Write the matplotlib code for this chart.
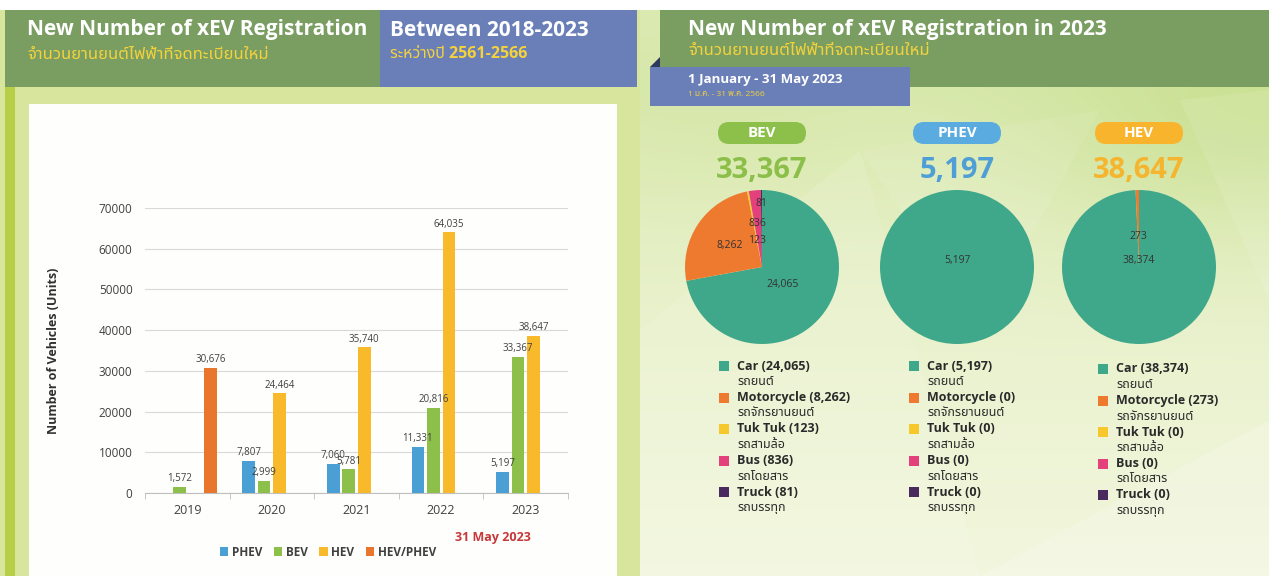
import numpy as np
import matplotlib
matplotlib.use("Agg")
import matplotlib.pyplot as plt
from matplotlib import font_manager
from matplotlib.ft2font import FT2Font
from matplotlib.patches import Rectangle, FancyBboxPatch, Polygon

# ── Data ──────────────────────────────────────────────────────────────────────
YEARS    = ["2019", "2020", "2021", "2022", "2023"]
PHEV     = [np.nan, 7807, 7060, 11331, 5197]
BEV      = [1572, 2999, 5781, 20816, 33367]
HEV      = [np.nan, 24464, 35740, 64035, 38647]
HEV_PHEV = [30676, np.nan, np.nan, np.nan, np.nan]
SERIES_NAMES = ["PHEV", "BEV", "HEV", "HEV/PHEV"]
Y_TICKS  = [0, 10000, 20000, 30000, 40000, 50000, 60000, 70000]

VEHICLE_EN = ["Car", "Motorcycle", "Tuk Tuk", "Bus", "Truck"]
VEHICLE_TH = ["รถยนต์", "รถจักรยานยนต์", "รถสามล้อ", "รถโดยสาร", "รถบรรทุก"]
BEV_2023   = [24065, 8262, 123, 836, 81]
PHEV_2023  = [5197, 0, 0, 0, 0]
HEV_2023   = [38374, 273, 0, 0, 0]
PIE_NAMES  = ["BEV", "PHEV", "HEV"]
PIE_TOTALS = [33367, 5197, 38647]

# ── Style ─────────────────────────────────────────────────────────────────────
W, H = 1269, 576
GREEN_HDR = "#7a9e62"
BLUE_HDR  = "#6a7fb8"
GOLD      = "#f4d23c"
BAR_COLORS = ["#4a9fd5", "#8cc04a", "#f8b92a", "#e8762d"]
VEH_COLORS = ["#40a88a", "#ee7a30", "#f6c82c", "#e4407c", "#4a2a5e"]
PILL_COLORS = ["#8dc04a", "#5aabdf", "#f9b42d"]
NUM_COLORS  = ["#8cbf4a", "#4f9fd6", "#f5b52e"]
PIE_CX = [762, 957, 1139]
PIE_CY = 267
PIE_R  = 77
LABEL_FRAC = [[0.35, 0.5, 0.35, 0.57, 0.83], [-0.08], [-0.08, 0.4]]
LEG_MX = [724, 914, 1103]
LEG_DY = [0, 0, 3]


def find_thai_family():
    names = [f.name for f in font_manager.fontManager.ttflist]
    for pref in ["Noto Sans Thai", "Noto Sans Thai UI", "Noto Looped Thai"]:
        if pref in names:
            return pref
    for f in font_manager.fontManager.ttflist:
        try:
            if 0x0E01 in FT2Font(f.fname).get_charmap():
                return f.name
        except Exception:
            pass
    return None


thai = find_thai_family()
families = ["Open Sans"] + ([thai] if thai else []) + ["DejaVu Sans"]
plt.rcParams["font.family"] = families

fig = plt.figure(figsize=(W / 100, H / 100), dpi=100, facecolor="white")

# ── Background (pixel coordinates) ────────────────────────────────────────────
bg = fig.add_axes([0, 0, 1, 1])
bg.set_xlim(0, W)
bg.set_ylim(H, 0)
bg.axis("off")

# right side soft gradient
ny, nx = 120, 160
yy, xx = np.mgrid[0:ny, 0:nx]
py = 10 + yy / (ny - 1) * (H - 10)
px = 630 + xx / (nx - 1) * (W - 630)
t = np.clip((py - 90) / (H - 90), 0, 1) ** 0.7
top = np.array([0.86, 0.92, 0.70])
bot = np.array([0.95, 0.965, 0.87])
img = top[None, None, :] * (1 - t[..., None]) + bot[None, None, :] * t[..., None]
g = np.exp(-(((px - 1269) / 260) ** 2 + ((py - 110) / 120) ** 2))
img = img * (1 - 0.55 * g[..., None]) + np.array([0.74, 0.85, 0.48]) * 0.55 * g[..., None]
g2 = np.exp(-(((px - 700) / 200) ** 2 + ((py - 120) / 90) ** 2))
img = img * (1 - 0.3 * g2[..., None]) + np.array([0.80, 0.88, 0.58]) * 0.3 * g2[..., None]
bg.imshow(img, extent=[630, W, H, 10], aspect="auto", interpolation="bilinear", zorder=0)

# faint facets
for pts, a in [([(640, 330), (860, 150), (980, 576), (640, 576)], 0.10),
               ([(980, 576), (1269, 420), (1269, 576)], 0.18),
               ([(860, 150), (1100, 110), (980, 330)], 0.08),
               ([(1180, 100), (1269, 90), (1269, 300)], 0.10)]:
    bg.add_patch(Polygon(pts, closed=True, facecolor="white", alpha=a, lw=0, zorder=0.5))

# left side
bg.add_patch(Rectangle((0, 10), 640, H - 10, facecolor="#d8e59c", lw=0, zorder=1))
bg.add_patch(Rectangle((5, 87), 10, H - 87, facecolor="#b5cf48", lw=0, zorder=1.1))
bg.add_patch(Rectangle((29, 104), 617 - 29, H - 104, facecolor="#fefefc", lw=0, zorder=1.2))

# headers
bg.add_patch(Rectangle((5, 10), 375, 77, facecolor=GREEN_HDR, lw=0, zorder=2))
bg.add_patch(Rectangle((380, 10), 257, 77, facecolor=BLUE_HDR, lw=0, zorder=2))
bg.add_patch(Rectangle((660, 10), W - 660, 77, facecolor=GREEN_HDR, lw=0, zorder=2))
bg.add_patch(Polygon([(650, 67), (660, 57), (660, 67)], closed=True,
                     facecolor="#2e3a5c", lw=0, zorder=2))
bg.add_patch(Rectangle((650, 67), 260, 39, facecolor=BLUE_HDR, lw=0, zorder=3))

bg.text(27, 30, "New Number of xEV Registration", color="white", fontsize=15,
        fontweight="bold", va="center", ha="left", zorder=4)
bg.text(27, 54, "จำนวนยานยนต์ไฟฟ้าที่จดทะเบียนใหม่", color=GOLD, fontsize=12,
        fontweight="bold", va="center", ha="left", zorder=4)
bg.text(390, 30, "Between 2018-2023", color="white", fontsize=15,
        fontweight="bold", va="center", ha="left", zorder=4)
bg.text(390, 54, "ระหว่างปี 2561-2566", color=GOLD, fontsize=11.5,
        fontweight="bold", va="center", ha="left", zorder=4)
bg.text(688, 30, "New Number of xEV Registration in 2023", color="white", fontsize=15,
        fontweight="bold", va="center", ha="left", zorder=4)
bg.text(688, 50, "จำนวนยานยนต์ไฟฟ้าที่จดทะเบียนใหม่", color=GOLD, fontsize=12,
        fontweight="bold", va="center", ha="left", zorder=4)
bg.text(688, 79, "1 January - 31 May 2023", color="white", fontsize=9.5,
        fontweight="bold", va="center", ha="left", zorder=4)
bg.text(688, 95, "1 ม.ค. - 31 พ.ค. 2566", color=GOLD, fontsize=6,
        va="center", ha="left", zorder=4)

# ── Bar chart ─────────────────────────────────────────────────────────────────
ax = fig.add_axes([145 / W, (H - 493) / H, (568 - 145) / W, (493 - 208) / H])
ax.patch.set_alpha(0)
x = np.arange(len(YEARS))
step, width = 0.183, 0.148
for i, (vals, name) in enumerate(zip([PHEV, BEV, HEV, HEV_PHEV], SERIES_NAMES)):
    pos = x + (i - 1.5) * step
    ax.bar(pos, vals, width=width, color=BAR_COLORS[i], label=name, zorder=3)
    for xp, v in zip(pos, vals):
        if not np.isnan(v):
            ax.annotate(f"{int(v):,}", (xp, v), xytext=(0, 2), textcoords="offset points",
                        ha="center", va="bottom", fontsize=7, color="#404040", zorder=4)

ax.set_xlim(-0.5, len(YEARS) - 0.5)
ax.set_ylim(0, 70000)
ax.set_yticks(Y_TICKS)
ax.set_yticklabels([str(v) for v in Y_TICKS])
ax.set_xticks(x)
ax.set_xticklabels(YEARS)
ax.set_xticks(np.arange(-0.5, len(YEARS)), minor=True)
ax.yaxis.grid(True, color="#d9d9d9", lw=0.8)
ax.set_axisbelow(True)
for s in ["left", "right", "top"]:
    ax.spines[s].set_visible(False)
ax.spines["bottom"].set_color("#bfbfbf")
ax.tick_params(axis="y", length=0, pad=9, labelsize=8.5, labelcolor="#404040")
ax.tick_params(axis="x", which="major", length=0, pad=8, labelsize=9, labelcolor="#404040")
ax.tick_params(axis="x", which="minor", length=4, color="#bfbfbf")
ax.set_ylabel("Number of Vehicles (Units)", fontsize=9, fontweight="bold", color="#303030")
ax.yaxis.set_label_coords((60 - 145) / (568 - 145), 0.5)

ax.legend(loc="center", bbox_to_anchor=(328 / W, 1 - 552 / H), bbox_transform=fig.transFigure,
          ncol=4, frameon=False, prop=dict(size=8.5, weight="bold"), handlelength=0.7,
          handleheight=0.7, handletextpad=0.3, columnspacing=1.0, labelcolor="#404040")
bg.text(493, 538, "31 May 2023", color="#c8383a", fontsize=9, fontweight="bold",
        ha="center", va="center", zorder=4)

# ── Pies ──────────────────────────────────────────────────────────────────────
pie_data = [BEV_2023, PHEV_2023, HEV_2023]
for k, (vals, name, total) in enumerate(zip(pie_data, PIE_NAMES, PIE_TOTALS)):
    cx = PIE_CX[k]
    pax = fig.add_axes([(cx - PIE_R) / W, 1 - (PIE_CY + PIE_R) / H, 2 * PIE_R / W, 2 * PIE_R / H])
    pax.pie(vals, colors=VEH_COLORS, startangle=90, counterclock=False, radius=1,
            wedgeprops=dict(linewidth=0))
    pax.set_xlim(-1, 1)
    pax.set_ylim(-1, 1)
    pax.set_aspect("equal")
    pax.axis("off")
    cum = np.cumsum(vals)
    tot = float(sum(vals))
    fracs = LABEL_FRAC[k]
    j = 0
    for v, c in zip(vals, cum):
        if v <= 0:
            continue
        theta = np.deg2rad(90 - (c - v / 2) / tot * 360)
        f = fracs[j]
        pax.text(f * np.cos(theta), f * np.sin(theta), f"{v:,}", fontsize=7.5,
                 color="#333333", ha="center", va="center")
        j += 1

    # pill + total
    bg.add_patch(FancyBboxPatch((cx - 44, 122), 88, 22,
                                boxstyle="round,pad=0,rounding_size=11",
                                facecolor=PILL_COLORS[k], lw=0, zorder=3))
    bg.text(cx, 133, name, color="white", fontsize=11, fontweight="bold",
            ha="center", va="center", zorder=4)
    bg.text(cx, 170, f"{total:,}", color=NUM_COLORS[k], fontsize=21, fontweight="bold",
            ha="center", va="center", zorder=4)

    # legend
    mx = LEG_MX[k]
    for i, (en, th, v) in enumerate(zip(VEHICLE_EN, VEHICLE_TH, vals)):
        yv = 366 + 31.5 * i + LEG_DY[k]
        bg.add_patch(Rectangle((mx - 5, yv - 5), 10, 10, facecolor=VEH_COLORS[i], lw=0, zorder=3))
        bg.text(mx + 13, yv, f"{en} ({v:,})", fontsize=9, fontweight="bold", color="#2a2a2a",
                ha="left", va="center", zorder=4)
        bg.text(mx + 13, yv + 15.5, th, fontsize=9, color="#2a2a2a",
                ha="left", va="center", zorder=4)

fig.savefig("out.png", dpi=100)
